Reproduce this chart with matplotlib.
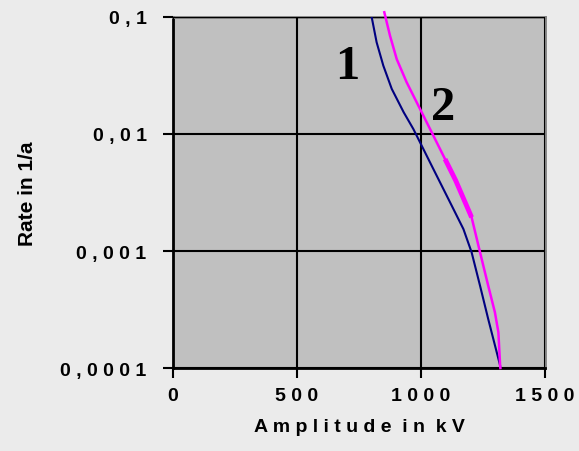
import matplotlib.pyplot as plt
from matplotlib.ticker import FixedLocator, NullLocator

# curve 1 (navy)
amp1 = [801, 821, 848, 882, 930, 969, 996, 1043, 1117, 1171, 1204, 1238, 1271, 1319, 1320]
rate1 = [0.1, 0.0608, 0.0384, 0.0243, 0.01535, 0.01104, 0.00849, 0.00536,
         0.00261, 0.00154, 0.000975, 0.000505, 0.000262, 0.000105, 0.0001]

# curve 2 (magenta)
amp2 = [852, 875, 902, 942, 996, 1043, 1090, 1140, 1204, 1238, 1271, 1298, 1312, 1319, 1320]
rate2 = [0.1097, 0.0692, 0.0437, 0.0277, 0.01637, 0.01035, 0.00653, 0.0040, 0.00194,
         0.000975, 0.000505, 0.000299, 0.000202, 0.000105, 0.0001]

# thicker piece on curve 2
amp2b = [1097, 1140, 1204]
rate2b = [0.0061, 0.0040, 0.00194]

xticks = [0, 500, 1000, 1500]
xlabels = ['0', '5 0 0', '1 0 0 0', '1 5 0 0']
yticks = [0.0001, 0.001, 0.01, 0.1]
ylabels = ['0 , 0 0 0 1', '0 , 0 0 1', '0 , 0 1', '0 , 1']

fig = plt.figure(figsize=(5.79, 4.52), dpi=100, facecolor='#ebebeb')
ax = fig.add_axes([0.2988, 0.1836, 0.6425, 0.7766])
ax.set_facecolor('#c0c0c0')

ax.plot(amp1, rate1, color='#000080', lw=1.5, zorder=3)
ax.plot(amp2, rate2, color='#ff00ff', lw=1.8, zorder=4, clip_on=False)
ax.plot(amp2b, rate2b, color='#ff00ff', lw=3.5, zorder=4, solid_capstyle='butt')

ax.set_yscale('log')
ax.set_xlim(0, 1500)
ax.set_ylim(0.0001, 0.1)

ax.xaxis.set_major_locator(FixedLocator(xticks))
ax.yaxis.set_major_locator(FixedLocator(yticks))
ax.yaxis.set_minor_locator(NullLocator())
ax.set_xticklabels(xlabels)
ax.set_yticklabels(ylabels)

ax.grid(True, color='black', lw=1.5)
ax.set_axisbelow(False)
for lab in ax.get_xticklabels() + ax.get_yticklabels():
    lab.set_fontfamily('Liberation Sans')
    lab.set_fontweight('bold')
    lab.set_fontsize(14)
ax.tick_params(axis='both', direction='out', length=7, width=1.5, color='black')
ax.tick_params(axis='x', pad=7)
ax.tick_params(axis='y', pad=12)

for s in ['left', 'bottom']:
    ax.spines[s].set_color('black')
    ax.spines[s].set_linewidth(2)
for s in ['top', 'right']:
    ax.spines[s].set_color('#808080')
    ax.spines[s].set_linewidth(2)

ax.set_xlabel('A m p l i t u d e  i n  k V', fontfamily='Liberation Sans',
              fontweight='bold', fontsize=14, labelpad=10)
ax.set_ylabel('Rate in 1/a', fontfamily='Liberation Sans', fontweight='bold',
              fontsize=15, labelpad=17)

ax.text(702, 0.038, '1', fontfamily='Liberation Serif', fontweight='bold',
        fontsize=35, ha='center', va='center', zorder=5)
ax.text(1090, 0.017, '2', fontfamily='Liberation Serif', fontweight='bold',
        fontsize=35, ha='center', va='center', zorder=5)

fig.savefig('out.png', dpi=100, facecolor=fig.get_facecolor())
